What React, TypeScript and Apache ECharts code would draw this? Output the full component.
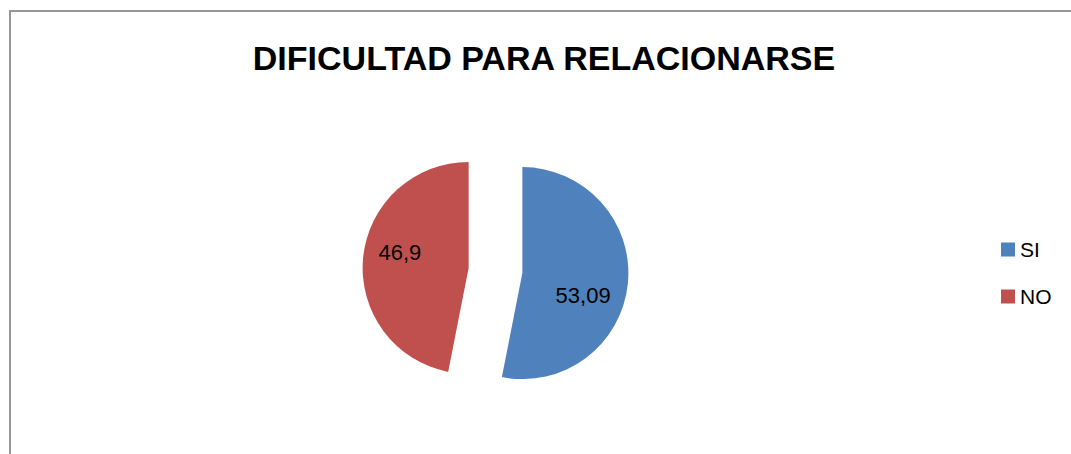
import React, { useEffect, useRef } from "react";
import * as echarts from "echarts";

const categories = ["SI", "NO"];
const values = [53.09, 46.9];
const colors = ["#4F81BD", "#C0504D"];
// nudge of each label from its default inside position: [dx, dy]
const labelNudges: number[][] = [
  [5, 17],
  [-13, -10],
];
const titleText = "DIFICULTAD PARA RELACIONARSE";

export default function App() {
  const ref = useRef<HTMLDivElement>(null);
  useEffect(() => {
    if (!ref.current) return;
    const chart = echarts.init(ref.current, undefined, { renderer: "svg" });
    chart.setOption({
      animation: false,
      backgroundColor: "#ffffff",
      title: {
        text: titleText,
        left: 544,
        top: 41,
        textAlign: "center",
        padding: 0,
        textStyle: {
          fontFamily: "Liberation Sans",
          fontWeight: "bold",
          fontSize: 34,
          color: "#000000",
        },
      },
      legend: {
        orient: "vertical",
        left: 996,
        top: 234,
        itemWidth: 14,
        itemHeight: 14,
        itemGap: 26,
        icon: "rect",
        selectedMode: false,
        data: categories,
        textStyle: {
          fontFamily: "Liberation Sans",
          fontSize: 21,
          color: "#000000",
        },
      },
      graphic: [
        {
          type: "rect",
          z: -10,
          silent: true,
          shape: { x: 10, y: 11, width: 1100, height: 500 },
          style: { fill: "none", stroke: "#979797", lineWidth: 2 },
        },
      ],
      series: [
        {
          type: "pie",
          center: [495.5, 270.5],
          radius: 106,
          startAngle: 90,
          clockwise: true,
          selectedMode: "multiple",
          selectedOffset: 27,
          avoidLabelOverlap: false,
          emphasis: { disabled: true },
          labelLine: { show: false },
          label: {
            show: true,
            position: "inside",
            fontFamily: "Liberation Sans",
            fontSize: 22,
            color: "#000000",
            formatter: (p: any) => String(p.value).replace(".", ","),
          },
          labelLayout: (p: any) => ({
            dx: labelNudges[p.dataIndex][0],
            dy: labelNudges[p.dataIndex][1],
          }),
          data: categories.map((name, i) => ({
            name,
            value: values[i],
            selected: true,
            itemStyle: { color: colors[i] },
          })),
        },
      ],
    });
    return () => chart.dispose();
  }, []);
  return (
    <div
      ref={ref}
      style={{ position: "absolute", left: 0, top: 0, width: 1071, height: 454 }}
    />
  );
}
